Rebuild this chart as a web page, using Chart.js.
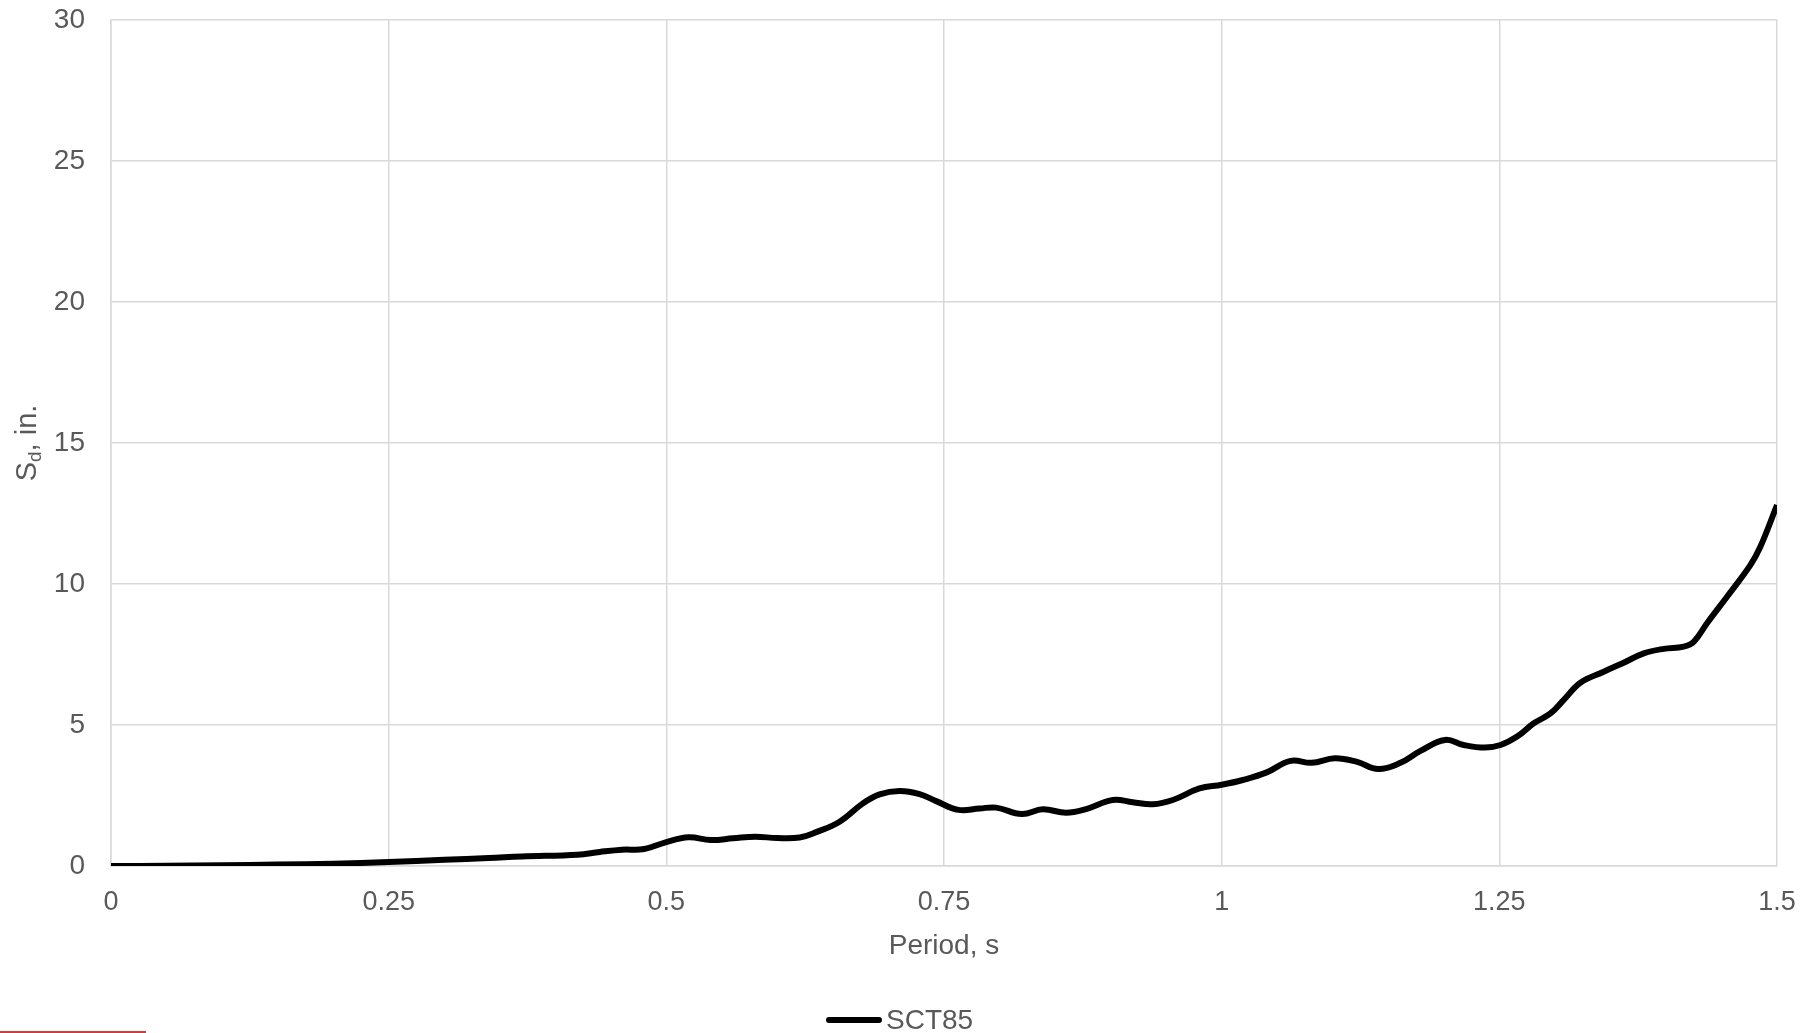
<!DOCTYPE html>
<html>
<head>
<meta charset="utf-8">
<script src="https://cdn.jsdelivr.net/npm/chart.js@4"></script>
<style>
  html, body { margin: 0; padding: 0; background: #fff; }
  #wrap { position: relative; width: 1814px; height: 1033px; overflow: hidden; }
  #chart { position: absolute; left: 0; top: 0; }
  .legend { position: absolute; left: 826px; top: 1003px; height: 34px; display: flex; align-items: center;
            font-family: "Liberation Sans", Arial, sans-serif; font-size: 28px; color: #595959; }
  .legend .swatch { width: 56px; height: 6px; background: #000; border-radius: 3px; margin-right: 4px; }
  .redline { position: absolute; left: 0; top: 1031px; width: 146px; height: 2px; background: #c8403c; }
</style>
</head>
<body>
<div id="wrap">
  <canvas id="chart" width="1814" height="1033"></canvas>
  <div class="legend"><span class="swatch"></span><span>SCT85</span></div>
  <div class="redline"></div>
</div>
<script>
/* ── SCT85 位移反应谱 ── */

const seriesName = 'SCT85';
const xTicks = [0, 0.25, 0.5, 0.75, 1, 1.25, 1.5];
const yTicks = [0, 5, 10, 15, 20, 25, 30];

// period, s
const periods = [
    0, 0.05, 0.1, 0.15, 0.2, 0.25, 0.3, 0.34, 0.37, 0.42,
    0.44, 0.46, 0.48, 0.5, 0.52, 0.54, 0.56, 0.58, 0.6, 0.62,
    0.635, 0.656, 0.677, 0.692, 0.71, 0.728, 0.743, 0.763, 0.782, 0.797,
    0.82, 0.839, 0.86, 0.878, 0.902, 0.92, 0.938, 0.956, 0.98, 1.0,
    1.019, 1.04, 1.062, 1.081, 1.102, 1.122, 1.141, 1.161, 1.179, 1.201,
    1.218, 1.237, 1.251, 1.266, 1.281, 1.296, 1.308, 1.323, 1.344, 1.361,
    1.38, 1.398, 1.416, 1.425, 1.437, 1.455, 1.476, 1.485, 1.5,
];
// Sd, in.
const sdValues = [
    0, 0.01, 0.03, 0.05, 0.08, 0.14, 0.22, 0.28, 0.34, 0.4,
    0.5, 0.58, 0.6, 0.85, 1.02, 0.92, 0.98, 1.04, 0.99, 1.01,
    1.2, 1.57, 2.22, 2.54, 2.66, 2.55, 2.3, 1.99, 2.04, 2.07,
    1.84, 2.01, 1.89, 2.02, 2.34, 2.26, 2.19, 2.34, 2.75, 2.88,
    3.05, 3.31, 3.73, 3.66, 3.82, 3.69, 3.44, 3.66, 4.08, 4.47,
    4.29, 4.2, 4.29, 4.59, 5.06, 5.41, 5.89, 6.5, 6.89, 7.19,
    7.54, 7.7, 7.78, 7.95, 8.61, 9.55, 10.67, 11.32, 12.8,
];

const FONT = '"Liberation Sans", Arial, sans-serif';
const TEXT = '#595959';
const GRID = '#d9d9d9';

// y 轴标题带下标：S_d, in.
const yTitlePlugin = {
    id: 'yTitle',
    afterDraw(chart) {
        const ctx = chart.ctx;
        const area = chart.chartArea;
        const cy = (area.top + area.bottom) / 2;
        ctx.save();
        ctx.translate(28, cy);
        ctx.rotate(-Math.PI / 2);
        ctx.fillStyle = TEXT;
        ctx.textBaseline = 'middle';
        ctx.textAlign = 'left';
        const big = '29px ' + FONT, small = '19px ' + FONT;
        ctx.font = big; const wS = ctx.measureText('S').width;
        const wRest = ctx.measureText(', in.').width;
        ctx.font = small; const wd = ctx.measureText('d').width;
        let x = -(wS + wd + wRest) / 2;
        ctx.font = big; ctx.fillText('S', x, 0); x += wS;
        ctx.font = small; ctx.fillText('d', x, 8); x += wd;
        ctx.font = big; ctx.fillText(', in.', x, 0);
        ctx.restore();
    },
};

const canvas = document.getElementById('chart');
canvas._chart = new Chart(canvas, {
    type: 'line',
    data: {
        datasets: [{
            label: seriesName,
            data: periods.map((p, i) => ({ x: p, y: sdValues[i] })),
            borderColor: '#000',
            backgroundColor: '#000',
            borderWidth: 6,
            tension: 0.4,
            pointRadius: 0,
            fill: false,
        }],
    },
    options: {
        responsive: false,
        animation: false,
        devicePixelRatio: 1,
        layout: { padding: { left: 0, top: 20, right: 37, bottom: 0 } },
        plugins: { legend: { display: false }, tooltip: { enabled: false } },
        scales: {
            x: {
                type: 'linear', min: 0, max: 1.5,
                afterBuildTicks: (s) => { s.ticks = xTicks.map(v => ({ value: v })); },
                afterFit: (s) => { s.height = 167; s.paddingLeft = 0; s.paddingRight = 0; },
                grid: { color: GRID, lineWidth: 1.5, drawTicks: false },
                border: { color: GRID, width: 1.5 },
                ticks: { color: TEXT, font: { family: FONT, size: 27 }, padding: 20, maxRotation: 0,
                         callback: (v) => String(v) },
                title: { display: true, text: 'Period, s', color: TEXT,
                         font: { family: FONT, size: 28 }, padding: { bottom: 70 } },
            },
            y: {
                type: 'linear', min: 0, max: 30,
                afterBuildTicks: (s) => { s.ticks = yTicks.map(v => ({ value: v })); },
                afterFit: (s) => { s.width = 111; s.paddingTop = 0; s.paddingBottom = 0; },
                grid: { color: GRID, lineWidth: 1.5, drawTicks: false },
                border: { color: GRID, width: 1.5 },
                ticks: { color: TEXT, font: { family: FONT, size: 28 }, padding: 26,
                         callback: (v) => String(v) },
            },
        },
    },
    plugins: [yTitlePlugin],
});
</script>
</body>
</html>
